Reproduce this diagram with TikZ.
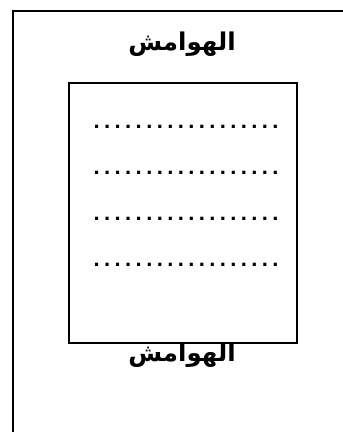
\documentclass[tikz,border=0pt]{standalone}
\usepackage{fontspec}
\TeXXeTstate=1
\newfontfamily\arabicfont[Script=Arabic]{DejaVu Sans}
\newfontfamily\dotfont{Liberation Sans}
\newcommand\dd{.\kern4.4pt}
\begin{document}
\begin{tikzpicture}[x=1pt,y=-1pt,
  frame/.style={line width=1.3pt,line join=miter},
  pagebox/.style={draw,line width=1.8pt,minimum width=228pt,minimum height=260pt,inner sep=0pt},
  heading/.style={font=\arabicfont\bfseries\fontsize{24.5}{24.5}\selectfont,inner sep=0pt},
  dotrow/.style={font=\dotfont\bfseries\fontsize{22}{22}\selectfont,inner sep=0pt,anchor=base west}]
\useasboundingbox (0,0) rectangle (343,432);
\fill[white] (0,0) rectangle (343,432);
\coordinate (bl) at (13,440);
\coordinate (tl) at (13,11);
\coordinate (tr) at (350,11);
\draw[frame] (bl) -- (tl) -- (tr);
\node[pagebox] (box) at (183,212.7) {};
\node[heading] (top) at (182,44) {\beginR الهوامش\endR};
\node[heading] (bottom) at (182,355.5) {\beginR الهوامش\endR};
\foreach \y/\n in {128.5/a,174/b,220/c,266.7/d}
  \node[dotrow] (row\n) at (93.5,\y) {\dd\dd\dd\dd\dd\dd\dd\dd\dd\dd\dd\dd\dd\dd\dd\dd\dd.};
\end{tikzpicture}
\end{document}
